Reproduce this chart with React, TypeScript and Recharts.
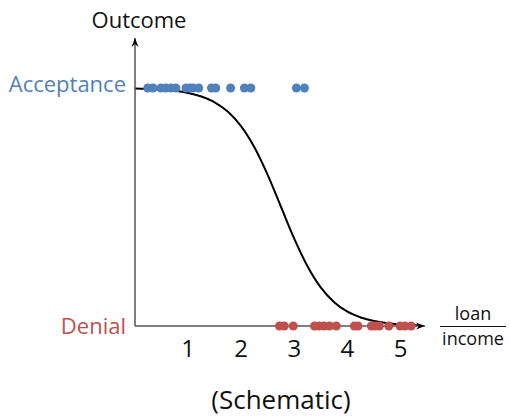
import React from 'react'
import {
  ComposedChart,
  Line,
  Scatter,
  XAxis,
  YAxis,
  ReferenceDot,
} from 'recharts'

// loan / income ratios of accepted (outcome = 1) and denied (outcome = 0) applications
const accepted = [0.24, 0.34, 0.49, 0.58, 0.68, 0.77, 0.96, 1.03, 1.09, 1.2, 1.44, 1.52, 1.8, 2.06, 2.18, 3.04, 3.19]
const denied = [2.72, 2.81, 2.98, 3.38, 3.47, 3.56, 3.66, 3.79, 4.13, 4.2, 4.45, 4.52, 4.6, 4.78, 4.99, 5.08, 5.2]

// fitted (schematic) logistic curve
const curveX = [0, 0.25, 0.5, 0.75, 1, 1.25, 1.5, 1.75, 2, 2.25, 2.5, 2.75, 3, 3.25, 3.5, 3.75, 4, 4.25, 4.5, 4.75, 5, 5.25, 5.35]
const curveY = [0.998, 0.996, 0.993, 0.988, 0.979, 0.964, 0.94, 0.9, 0.839, 0.75, 0.634, 0.5, 0.366, 0.25, 0.161, 0.1, 0.06, 0.036, 0.021, 0.012, 0.007, 0.004, 0.003]

const xTicks = [1, 2, 3, 4, 5]
const outcomeTicks = [0, 1]
const outcomeLabels = ['Denial', 'Acceptance']

const BLUE = '#4F81BD'
const RED = '#C0504D'
const FONT = '"Open Sans", sans-serif'

const acceptedData = accepted.map((x) => ({ x, y: 1 }))
const deniedData = denied.map((x) => ({ x, y: 0 }))
const curveData = curveX.map((x, i) => ({ x, y: curveY[i] }))

const Dot = (color: string) => (props: any) => (
  <circle cx={props.cx} cy={props.cy} r={4.5} fill={color} />
)

const XTick = (props: any) => (
  <text x={props.x} y={props.y + 31} textAnchor="middle" fontSize={24} fontFamily={FONT} fill="#111">
    {props.payload.value}
  </text>
)

const YTick = (props: any) => {
  const v = props.payload.value
  return (
    <text
      x={props.x - 9}
      y={props.y + (v === 1 ? 4 : 8)}
      textAnchor="end"
      fontSize={22}
      fontFamily={FONT}
      fill={v === 1 ? BLUE : RED}
    >
      {outcomeLabels[v]}
    </text>
  )
}

const UpHead = (props: any) => {
  const { cx, cy } = props
  return <polygon points={`${cx},${cy} ${cx - 3.5},${cy + 9} ${cx},${cy + 6} ${cx + 3.5},${cy + 9}`} fill="#000" />
}

const RightHead = (props: any) => {
  const { cx, cy } = props
  return <polygon points={`${cx},${cy} ${cx - 9},${cy - 3.5} ${cx - 6},${cy} ${cx - 9},${cy + 3.5}`} fill="#000" />
}

export default function App() {
  return (
    <div style={{ position: 'absolute', left: 0, top: 0, width: 510, height: 418, background: '#fff', fontFamily: FONT }}>
      <ComposedChart width={510} height={418} margin={{ top: 38, right: 85, bottom: 62, left: 0 }}>
        <XAxis
          type="number"
          dataKey="x"
          domain={[0, 5.46]}
          ticks={xTicks}
          axisLine={{ stroke: '#555', strokeWidth: 1.5 }}
          tickLine={false}
          tickSize={0}
          tickMargin={0}
          height={30}
          tick={<XTick />}
        />
        <YAxis
          type="number"
          dataKey="y"
          domain={[0, 1.21]}
          ticks={outcomeTicks}
          axisLine={{ stroke: '#555', strokeWidth: 1.5 }}
          tickLine={false}
          tickSize={0}
          tickMargin={0}
          width={135}
          tick={<YTick />}
        />
        <Scatter data={acceptedData} shape={Dot(BLUE)} isAnimationActive={false} />
        <Scatter data={deniedData} shape={Dot(RED)} isAnimationActive={false} />
        <Line
          data={curveData}
          dataKey="y"
          type="monotone"
          stroke="#000"
          strokeWidth={2}
          dot={false}
          isAnimationActive={false}
        />
        <ReferenceDot x={0} y={1.21} shape={UpHead} ifOverflow="visible" />
        <ReferenceDot x={5.46} y={0} shape={RightHead} ifOverflow="visible" />
      </ComposedChart>
      <div style={{ position: 'absolute', left: 139, top: 4, transform: 'translateX(-50%)', fontSize: 22, color: '#111', whiteSpace: 'nowrap' }}>
        Outcome
      </div>
      <div style={{ position: 'absolute', left: 440, top: 302, width: 66, textAlign: 'center', fontSize: 18, color: '#111', lineHeight: '22px' }}>
        <div style={{ borderBottom: '1.5px solid #111', paddingBottom: 2 }}>loan</div>
        <div>income</div>
      </div>
      <div style={{ position: 'absolute', left: 281, top: 381, transform: 'translateX(-50%)', fontSize: 26, color: '#111', whiteSpace: 'nowrap' }}>
        (Schematic)
      </div>
    </div>
  )
}
